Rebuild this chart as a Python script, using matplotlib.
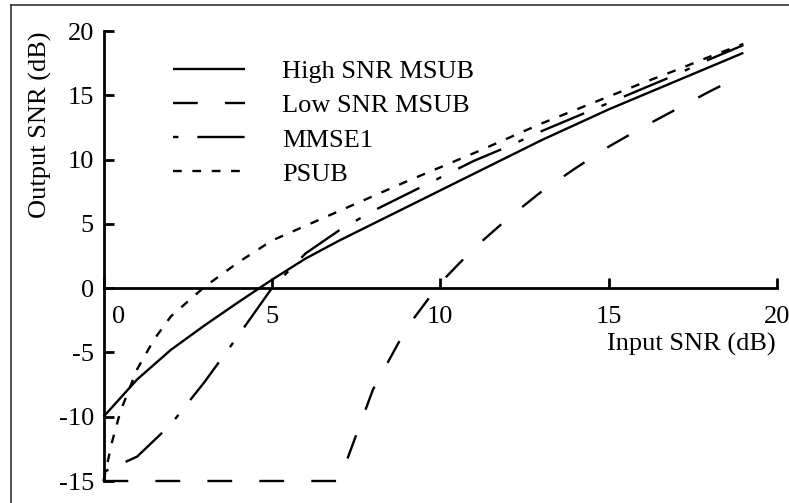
import matplotlib
matplotlib.use("Agg")
import matplotlib.pyplot as plt
import matplotlib.transforms as mtransforms
from matplotlib.lines import Line2D

plt.rcParams['font.family'] = ['Liberation Serif', 'DejaVu Serif']

# ---- data ----
x_int = list(range(0, 20))
high_snr_msub = [-10.0, -7.1, -4.8, -2.9, -1.1, 0.65, 2.3, 3.7, 5.0, 6.3,
                 7.6, 8.9, 10.2, 11.5, 12.7, 13.9, 15.0, 16.1, 17.2, 18.3]
low_snr_msub = [-15.0, -15.0, -15.0, -15.0, -15.0, -15.0, -15.0, -15.0, -7.9, -3.1,
                0.4, 3.1, 5.4, 7.5, 9.3, 11.0, 12.5, 13.9, 15.3, 16.6]
mmse1 = [-14.3, -13.1, -10.6, -7.3, -3.7, 0.0, 2.7, 4.5, 6.0, 7.3,
         8.6, 9.9, 11.0, 12.2, 13.3, 14.4, 15.5, 16.6, 17.8, 18.9]
psub_x = [0, 0.25, 0.5, 1, 1.5, 2, 3, 4, 5, 6, 7, 8, 9, 10, 11, 12, 13, 14, 15, 16, 17, 18, 19]
psub = [-15.0, -12.0, -9.6, -6.3, -4.0, -2.2, 0.1, 2.0, 3.7, 4.85, 6.0, 7.15, 8.3,
        9.4, 10.5, 11.65, 12.8, 13.85, 14.9, 15.95, 16.95, 18.0, 19.0]

labels = ["High SNR MSUB", "Low SNR MSUB", "MMSE1", "PSUB"]
x_ticks = [0, 5, 10, 15, 20]
y_ticks = [-15, -10, -5, 0, 5, 10, 15, 20]

W, H = 789, 503
FS = 19
fig = plt.figure(figsize=(W / 100, H / 100), dpi=100)
ax = fig.add_axes([103.5 / W, 22 / H, (777 - 103.5) / W, (481 - 31) / H])

lw = 1.7
ax.plot(x_int, high_snr_msub, color='black', lw=lw, solid_capstyle='butt',
        label=labels[0], clip_on=False)
ax.plot(x_int, low_snr_msub, color='black', lw=lw, dashes=(10.5, 11.5),
        dash_capstyle='butt', label=labels[1], clip_on=False)
ax.plot(x_int, mmse1, color='black', lw=lw, dashes=(2.3, 8, 20, 8),
        dash_capstyle='butt', label=labels[2], clip_on=False)
ax.plot(psub_x, psub, color='black', lw=lw, dashes=(3.7, 4.5),
        dash_capstyle='butt', label=labels[3], clip_on=False)

ax.set_xlim(0, 20)
ax.set_ylim(-15, 20)

for s in ['top', 'right']:
    ax.spines[s].set_visible(False)
ax.spines['bottom'].set_position(('data', 0))
ax.spines['left'].set_linewidth(2.0)
ax.spines['bottom'].set_linewidth(2.0)

ax.set_xticks(x_ticks)
ax.set_xticklabels([str(v) for v in x_ticks])
ax.set_yticks(y_ticks)
ax.set_yticklabels([str(v) for v in y_ticks])
ax.tick_params(axis='both', direction='in', length=7.5, width=2.0,
               labelsize=FS, colors='black')
ax.tick_params(axis='x', pad=13)
ax.tick_params(axis='y', pad=7)

# shift the "0" x tick label to the right (away from the y axis)
off = mtransforms.ScaledTranslation(15 / 100, 0, fig.dpi_scale_trans)
lab0 = ax.get_xticklabels()[0]
lab0.set_transform(lab0.get_transform() + off)

fig.text(40 / W, 1 - 125 / H, "Output SNR (dB)", rotation=90, ha='center',
         va='center', fontsize=FS)
fig.text(776 / W, 1 - 344 / H, "Input SNR (dB)", ha='right', va='center',
         fontsize=FS)

leg = ax.legend(loc='upper left', bbox_to_anchor=(173 / W, 1 - 60 / H),
                bbox_transform=fig.transFigure, frameon=False, fontsize=FS,
                handlelength=2.73, handletextpad=1.4, labelspacing=0.4,
                borderpad=0, borderaxespad=0)

# outer frame (left and top edges)
fig.add_artist(Line2D([11 / W, 11 / W], [0, 1 - 5 / H], transform=fig.transFigure,
                      color='#333333', lw=1.2))
fig.add_artist(Line2D([11 / W, 1], [1 - 5 / H, 1 - 5 / H], transform=fig.transFigure,
                      color='#333333', lw=1.2))

fig.savefig("out.png", dpi=100)
